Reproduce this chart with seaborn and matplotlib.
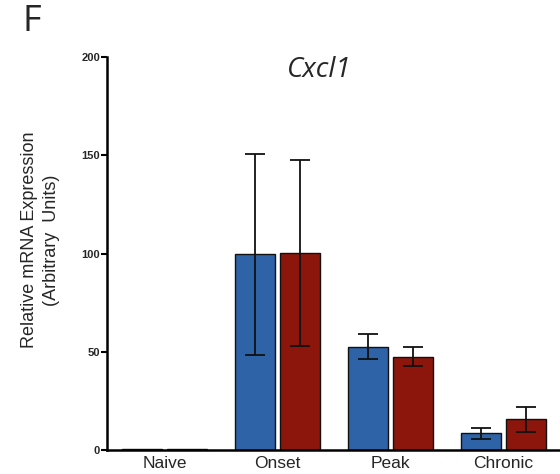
import matplotlib
matplotlib.use("Agg")
import matplotlib.pyplot as plt
import seaborn as sns
import pandas as pd
import numpy as np

# Cxcl1 relative expression by disease stage, two groups per stage
stages = ["Naive", "Onset", "Peak", "Chronic"]
groups = ["WT", "KO"]
means_wt = [0.5, 99.7, 52.6, 8.6]
means_ko = [0.5, 100.3, 47.5, 15.6]
err_wt = [0.0, 51.2, 6.3, 2.8]
err_ko = [0.0, 47.3, 4.9, 6.5]
yticks = [0, 50, 100, 150, 200]

blue = "#2f63a8"
red = "#8c160c"

df = pd.DataFrame({
    "stage": stages * 2,
    "group": [groups[0]] * 4 + [groups[1]] * 4,
    "value": means_wt + means_ko,
})

sns.set_style("white")
plt.rcParams["font.family"] = ["Liberation Sans", "DejaVu Sans"]

fig = plt.figure(figsize=(5.6, 4.74), dpi=100)
ax = fig.add_axes([0.191, 0.0506, 0.809, 0.8291])

sns.barplot(data=df, x="stage", y="value", hue="group", order=stages,
            hue_order=groups, palette=[blue, red], errorbar=None,
            saturation=1, gap=0.12, edgecolor="#111111", linewidth=1.0,
            legend=False, ax=ax)

# error bars at each bar centre, taken from the drawn patches
errs = {groups[0]: err_wt, groups[1]: err_ko}
means = {groups[0]: means_wt, groups[1]: means_ko}
for cont, g in zip(ax.containers, groups):
    xs = [p.get_x() + p.get_width() / 2 for p in cont.patches]
    e = np.array(errs[g])
    m = np.array(means[g])
    mask = e > 0
    ax.errorbar(np.array(xs)[mask], m[mask], yerr=e[mask], fmt="none",
                ecolor="#111111", elinewidth=1.3, capsize=7, capthick=1.3)

ax.set_xlim(-0.51, 3.5)
ax.set_ylim(0, 200)
ax.set_yticks(yticks)
ax.set_yticklabels([str(t) for t in yticks], fontsize=8, fontweight="bold")
ax.tick_params(axis="y", left=True, length=4, width=1.5, pad=1, color="black")
ax.tick_params(axis="x", bottom=False, labelsize=12.5, pad=1)
ax.set_xlabel("")
ax.set_ylabel("")

sns.despine(ax=ax)
for s in ["left", "bottom"]:
    ax.spines[s].set_linewidth(1.8)
    ax.spines[s].set_color("black")

fig.text(0.0723, 0.494, "Relative mRNA Expression\n(Arbitrary  Units)",
         rotation=90, ha="center", va="center", fontsize=13, linespacing=1.45)

ax.text(319 / 560, (474 - 70) / 474, "Cxcl1", transform=fig.transFigure,
        ha="center", va="center", fontsize=20, style="italic",
        family=["Open Sans", "DejaVu Sans"])
fig.text(32 / 560, (474 - 22) / 474, "F", ha="center", va="center",
         fontsize=26, family=["Open Sans", "DejaVu Sans"])

fig.savefig("out.png", dpi=100)
